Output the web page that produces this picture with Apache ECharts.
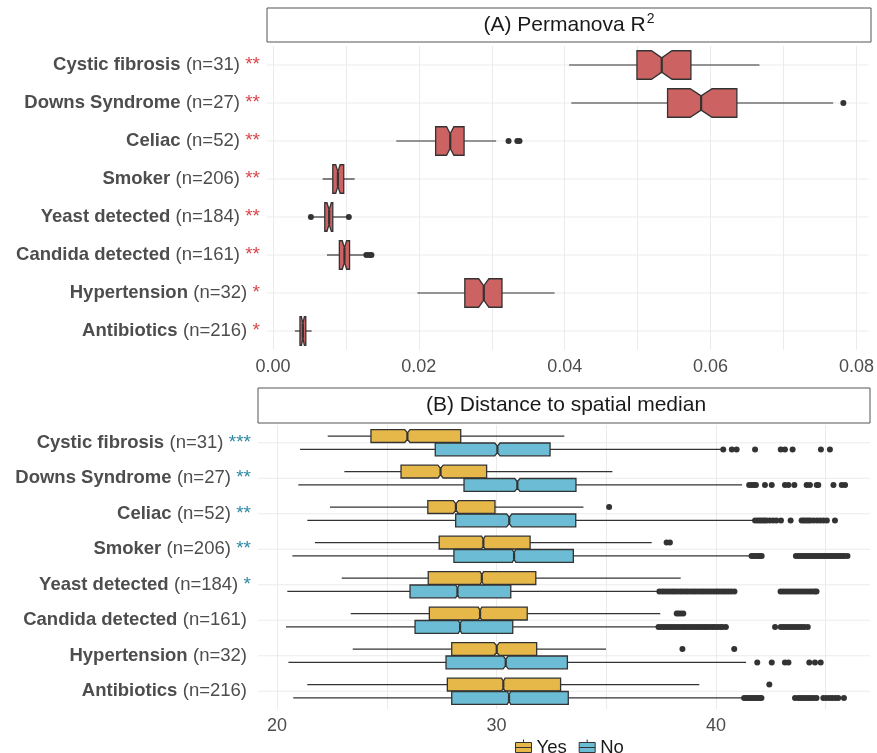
<!DOCTYPE html>
<html>
<head>
<meta charset="utf-8">
<script src="https://cdn.jsdelivr.net/npm/echarts@6.0.0/dist/echarts.min.js"></script>
<style>
  html, body { margin: 0; padding: 0; background: #fff; }
  #main { width: 877px; height: 753px; }
</style>
</head>
<body>
<div id="main"></div>
<script>
// categories and labels
var categories = ["Cystic fibrosis", "Downs Syndrome", "Celiac", "Smoker", "Yeast detected", "Candida detected", "Hypertension", "Antibiotics"];
var sampleN = [31, 27, 52, 206, 184, 161, 32, 216];
var starsA = ["**", "**", "**", "**", "**", "**", "*", "*"];
var starsB = ["***", "**", "**", "**", "*", "", "", ""];

// (A) Permanova R2 box stats
var permLow = [0.0406, 0.0409, 0.0169, 0.0068, 0.0055, 0.0074, 0.0198, 0.0030];
var permQ1 = [0.0499, 0.0541, 0.0223, 0.0082, 0.0071, 0.0091, 0.0263, 0.0037];
var permMed = [0.0533, 0.0587, 0.0243, 0.0089, 0.0077, 0.0098, 0.0289, 0.0041];
var permQ3 = [0.0573, 0.0636, 0.0262, 0.0097, 0.0082, 0.0105, 0.0314, 0.0045];
var permHigh = [0.0667, 0.0768, 0.0306, 0.0112, 0.0101, 0.0126, 0.0386, 0.0053];
var permNotch = [0.0014, 0.0015, 0.0005, 0.0003, 0.0003, 0.0003, 0.0007, 0.0002];
var permOutliers = [[], [0.0782], [0.0323, 0.0335, 0.0338], [], [0.0052, 0.0104], [0.0128, 0.0132, 0.0135], [], []];

// (B) Distance to spatial median, Yes group
var yesLow = [22.31, 23.07, 22.41, 21.73, 22.95, 23.36, 23.45, 21.38];
var yesQ1 = [24.28, 25.65, 26.87, 27.39, 26.89, 26.94, 27.96, 27.76];
var yesMed = [25.94, 27.45, 28.15, 29.40, 29.33, 29.25, 30.01, 30.31];
var yesQ3 = [28.37, 29.55, 29.93, 31.53, 31.79, 31.40, 31.83, 32.92];
var yesHigh = [33.09, 35.28, 33.96, 37.07, 38.39, 37.46, 34.99, 39.24];
var yesOutliers = [[], [], [35.13], [37.75, 37.9], [], [38.21, 38.3, 38.4, 38.51], [38.47, 40.83], [42.43]];

// (B) No group
var noLow = [21.05, 20.97, 21.38, 20.70, 20.47, 20.41, 20.52, 20.74];
var noQ1 = [27.21, 28.52, 28.14, 28.06, 26.06, 26.29, 27.70, 27.96];
var noMed = [30.04, 30.95, 30.58, 30.80, 28.22, 28.34, 30.42, 30.57];
var noQ3 = [32.44, 33.62, 33.61, 33.50, 30.65, 30.74, 33.23, 33.27];
var noHigh = [40.23, 41.19, 41.70, 41.55, 37.37, 37.33, 41.37, 41.25];
var noOutliers = [
  [40.33, 40.72, 40.94, 41.78, 42.95, 43.14, 43.49, 44.78, 45.19],
  [41.51, 41.62, 41.73, 41.82, 42.23, 42.54, 43.14, 43.30, 43.57, 44.13, 44.28, 44.59, 44.66, 45.35, 45.73, 45.88],
  [41.78, 41.9, 42.0, 42.1, 42.2, 42.3, 42.45, 42.6, 42.75, 42.96, 43.40, 43.9, 44.0, 44.1, 44.2, 44.3, 44.45, 44.6, 44.75, 44.9, 45.05, 45.42],
  [41.62, 41.72, 41.82, 41.92, 42.0, 42.08, 43.64, 43.75, 43.85, 43.95, 44.05, 44.15, 44.25, 44.35, 44.45, 44.55, 44.65, 44.75, 44.85, 44.95, 45.05, 45.15, 45.25, 45.35, 45.45, 45.55, 45.65, 45.75, 45.85, 45.99],
  [37.42, 37.55, 37.66, 37.78, 37.9, 38.02, 38.13, 38.25, 38.37, 38.48, 38.6, 38.71, 38.83, 38.95, 39.06, 39.18, 39.3, 39.41, 39.53, 39.65, 39.76, 39.88, 40.0, 40.11, 40.23, 40.35, 40.46, 40.58, 40.7, 40.84,
   42.94, 43.06, 43.18, 43.3, 43.42, 43.54, 43.66, 43.78, 43.9, 44.02, 44.14, 44.26, 44.38, 44.5, 44.58],
  [37.38, 37.5, 37.62, 37.73, 37.85, 37.97, 38.08, 38.2, 38.32, 38.44, 38.55, 38.67, 38.79, 38.9, 39.02, 39.14, 39.25, 39.37, 39.49, 39.6, 39.72, 39.84, 39.95, 40.07, 40.19, 40.3, 40.45,
   42.69, 42.95, 43.07, 43.19, 43.31, 43.43, 43.55, 43.67, 43.79, 43.91, 44.03, 44.18],
  [41.88, 42.54, 43.14, 43.30, 44.25, 44.51, 44.77],
  [41.28, 41.38, 41.48, 41.58, 41.68, 41.78, 41.88, 41.98, 42.07, 43.6, 43.75, 43.86, 43.97, 44.08, 44.2, 44.32, 44.45, 44.58, 44.89, 45.03, 45.17, 45.3, 45.44, 45.57, 45.83]
];
var boxNotchB = [0.12, 0.12, 0.12, 0.08, 0.08, 0.08, 0.12, 0.08];

// axis ticks
var ticksA = [0, 0.01, 0.02, 0.03, 0.04, 0.05, 0.06, 0.07, 0.08];
var labelsA = [0, 0.02, 0.04, 0.06, 0.08];
var ticksB = [20, 25, 30, 35, 40, 45];
var labelsB = [20, 30, 40];

var FONT = '"Liberation Sans", Arial, sans-serif';
var RED = "#cd6262", YES = "#e6b84a", NO = "#6bbcd4";
var INK = "#333333", GRID = "#ebebeb";

(function() {
  var myChart = echarts.init(document.getElementById("main"));

  function boxRows(low, q1, med, q3, high, notch) {
    return categories.map(function(c, i) {
      return [i, low[i], q1[i], med[i], q3[i], high[i], notch[i]];
    });
  }
  function outlierRows(list) {
    var out = [];
    list.forEach(function(vals, i) {
      vals.forEach(function(v) { out.push([i, v]); });
    });
    return out;
  }

  // notched box drawn through the axes' scales
  function boxRenderer(offset, thick, fill) {
    return function(params, api) {
      var cat = api.value(0);
      var band = api.size([0, 1])[1];
      var yc = api.coord([api.value(3), cat])[1] + offset * band;
      var h = thick * band / 2;
      var x = function(v) { return api.coord([v, cat])[0]; };
      var md = api.value(3), nh = api.value(6);
      var lo = x(api.value(1)), q1 = x(api.value(2)), m = x(md), q3 = x(api.value(4)), hi = x(api.value(5));
      var nl = x(md - nh), nr = x(md + nh);
      var line = { stroke: INK, lineWidth: 1.2 };
      return {
        type: "group",
        children: [
          { type: "line", shape: { x1: lo, y1: yc, x2: q1, y2: yc }, style: line },
          { type: "line", shape: { x1: q3, y1: yc, x2: hi, y2: yc }, style: line },
          {
            type: "polygon",
            shape: { points: [[q1, yc - h], [nl, yc - h], [m, yc - h / 2], [nr, yc - h], [q3, yc - h],
                              [q3, yc + h], [nr, yc + h], [m, yc + h / 2], [nl, yc + h], [q1, yc + h]] },
            style: { fill: fill, stroke: INK, lineWidth: 1.3 }
          },
          { type: "line", shape: { x1: m, y1: yc - h / 2, x2: m, y2: yc + h / 2 }, style: { stroke: INK, lineWidth: 2.2 } }
        ]
      };
    };
  }
  function dotRenderer(offset) {
    return function(params, api) {
      var band = api.size([0, 1])[1];
      var p = api.coord([api.value(1), api.value(0)]);
      return { type: "circle", shape: { cx: p[0], cy: p[1] + offset * band, r: 3 }, style: { fill: INK } };
    };
  }
  function rowLineRenderer(params, api) {
    var cs = params.coordSys;
    var y = api.coord([0, api.value(0)])[1];
    return { type: "line", shape: { x1: cs.x, y1: y, x2: cs.x + cs.width, y2: y }, style: { stroke: GRID, lineWidth: 1 } };
  }

  function yLabel(stars, starStyle) {
    return function(value, idx) {
      var s = "{b|" + categories[idx] + "} ";
      if (stars[idx]) s += "{n|(n=" + sampleN[idx] + ")} {" + starStyle + "|" + stars[idx] + "}";
      else s += "{p|(n=" + sampleN[idx] + ")}";
      return s;
    };
  }
  var labelRich = {
    b: { fontWeight: "bold", fontSize: 18.5, color: "#4d4d4d", fontFamily: FONT },
    n: { fontSize: 18.5, color: "#4d4d4d", fontFamily: FONT, padding: [0, 0, 0, 2] },
    p: { fontSize: 18.5, color: "#4d4d4d", fontFamily: FONT, padding: [0, 4, 0, 2] },
    r: { fontSize: 19, color: "#d8474a", fontFamily: FONT, padding: [0, 0, 0, 2] },
    t: { fontSize: 19, color: "#2f88a3", fontFamily: FONT, padding: [0, 0, 0, 2] }
  };

  var boxIcon = "path://M0,3 L16,3 L16,13 L0,13 Z M0,8 L16,8 M8,0 L8,3 M8,13 L8,16";

  var option = {
    animation: false,
    textStyle: { fontFamily: FONT },
    graphic: [
      { type: "rect", shape: { x: 267, y: 8, width: 604, height: 34 }, style: { fill: "#fff", stroke: "#555", lineWidth: 1 } },
      {
        type: "text", x: 569, y: 25,
        style: {
          text: "{a|(A) Permanova}{a| R}{s|2}", align: "center", verticalAlign: "middle",
          rich: {
            a: { fontSize: 21, fill: "#1a1a1a", fontFamily: FONT },
            s: { fontSize: 14, fill: "#1a1a1a", fontFamily: FONT, padding: [0, 0, 11, 1] }
          }
        }
      },
      { type: "rect", shape: { x: 258, y: 388, width: 612, height: 35 }, style: { fill: "#fff", stroke: "#555", lineWidth: 1 } },
      {
        type: "text", x: 566, y: 405.5,
        style: { text: "(B) Distance to spatial median", align: "center", verticalAlign: "middle", fontSize: 21, fill: "#1a1a1a", fontFamily: FONT }
      }
    ],
    legend: {
      left: 510, top: 733,
      itemWidth: 16, itemHeight: 16, itemGap: 12,
      textStyle: { fontSize: 18.5, color: "#1a1a1a", fontFamily: FONT },
      data: [
        { name: "Yes", icon: boxIcon, itemStyle: { color: YES, borderColor: INK, borderWidth: 1 } },
        { name: "No", icon: boxIcon, itemStyle: { color: NO, borderColor: INK, borderWidth: 1 } }
      ]
    },
    grid: [
      { left: 267, right: 6, top: 46, height: 304 },
      { left: 258, right: 7, top: 425, height: 284 }
    ],
    xAxis: [
      {
        type: "value", gridIndex: 0, min: -0.00082, max: 0.08164,
        axisLine: { show: false },
        axisTick: { show: false, customValues: ticksA },
        axisLabel: { customValues: labelsA, margin: 8, fontSize: 18, color: "#4d4d4d", fontFamily: FONT,
                     formatter: function(v) { return v.toFixed(2); } },
        splitLine: { show: true, lineStyle: { color: GRID, width: 1 } }
      },
      {
        type: "value", gridIndex: 1, min: 19.134, max: 47.016,
        axisLine: { show: false },
        axisTick: { show: false, customValues: ticksB },
        axisLabel: { customValues: labelsB, margin: 8, fontSize: 18, color: "#4d4d4d", fontFamily: FONT },
        splitLine: { show: true, lineStyle: { color: GRID, width: 1 } }
      }
    ],
    yAxis: [
      {
        type: "category", gridIndex: 0, data: categories, inverse: true,
        axisLine: { show: false }, axisTick: { show: false }, splitLine: { show: false },
        axisLabel: { margin: 7, formatter: yLabel(starsA, "r"), rich: labelRich }
      },
      {
        type: "category", gridIndex: 1, data: categories, inverse: true,
        axisLine: { show: false }, axisTick: { show: false }, splitLine: { show: false },
        axisLabel: { margin: 7, formatter: yLabel(starsB, "t"), rich: labelRich }
      }
    ],
    series: [
      {
        name: "rowsA", type: "custom", xAxisIndex: 0, yAxisIndex: 0, z: 1, silent: true,
        dimensions: ["cat"], encode: { y: 0 },
        data: categories.map(function(c, i) { return [i]; }),
        renderItem: rowLineRenderer
      },
      {
        name: "Permanova", type: "custom", xAxisIndex: 0, yAxisIndex: 0, z: 3,
        encode: { x: [1, 2, 3, 4, 5], y: 0 },
        data: boxRows(permLow, permQ1, permMed, permQ3, permHigh, permNotch),
        renderItem: boxRenderer(0, 0.75, RED)
      },
      {
        name: "PermOut", type: "custom", xAxisIndex: 0, yAxisIndex: 0, z: 4,
        encode: { x: 1, y: 0 },
        data: outlierRows(permOutliers),
        renderItem: dotRenderer(0)
      },
      {
        name: "rowsB", type: "custom", xAxisIndex: 1, yAxisIndex: 1, z: 1, silent: true,
        dimensions: ["cat"], encode: { y: 0 },
        data: categories.map(function(c, i) { return [i]; }),
        renderItem: rowLineRenderer
      },
      {
        name: "Yes", type: "custom", xAxisIndex: 1, yAxisIndex: 1, z: 3,
        itemStyle: { color: YES },
        encode: { x: [1, 2, 3, 4, 5], y: 0 },
        data: boxRows(yesLow, yesQ1, yesMed, yesQ3, yesHigh, boxNotchB),
        renderItem: boxRenderer(-0.1875, 0.36, YES)
      },
      {
        name: "No", type: "custom", xAxisIndex: 1, yAxisIndex: 1, z: 3,
        itemStyle: { color: NO },
        encode: { x: [1, 2, 3, 4, 5], y: 0 },
        data: boxRows(noLow, noQ1, noMed, noQ3, noHigh, boxNotchB),
        renderItem: boxRenderer(0.1875, 0.36, NO)
      },
      {
        name: "YesOut", type: "custom", xAxisIndex: 1, yAxisIndex: 1, z: 4,
        encode: { x: 1, y: 0 },
        data: outlierRows(yesOutliers),
        renderItem: dotRenderer(-0.1875)
      },
      {
        name: "NoOut", type: "custom", xAxisIndex: 1, yAxisIndex: 1, z: 4,
        encode: { x: 1, y: 0 },
        data: outlierRows(noOutliers),
        renderItem: dotRenderer(0.1875)
      }
    ]
  };
  myChart.setOption(option);
  window.addEventListener("resize", function() {
    myChart.resize();
  });
})();
</script>
</body>
</html>
